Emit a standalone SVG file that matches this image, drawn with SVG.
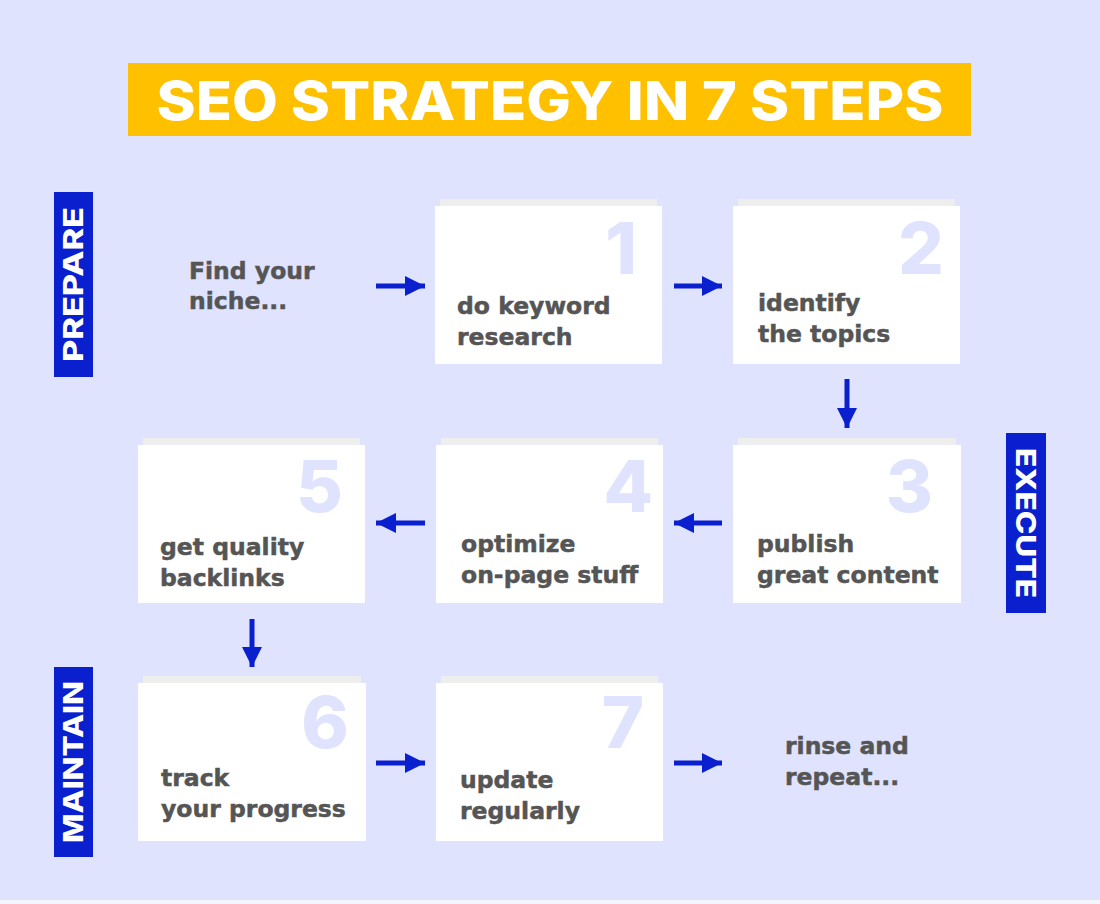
<svg xmlns="http://www.w3.org/2000/svg" width="1100" height="904" viewBox="0 0 1100 904">
<defs>
<style>
.bg{fill:#dfe3fe}
.card{fill:#ffffff}
.shadow{fill:#eeeeee}
.num{font-family:Inter,"Open Sans","DejaVu Sans",sans-serif;font-weight:800;font-size:72px;fill:#dfe3fe;text-anchor:end}
.lbl{font-family:"DejaVu Sans",Inter,sans-serif;font-weight:700;font-size:23.5px;fill:#555555;stroke:#555555;stroke-width:0.5}
.side{fill:#0a1fce}
.sidetxt{font-family:Inter,"Open Sans","DejaVu Sans",sans-serif;font-weight:800;font-size:27px;fill:#ffffff;text-anchor:middle}
.title{font-family:Inter,"Open Sans","DejaVu Sans",sans-serif;font-weight:800;font-size:54px;fill:#ffffff;text-anchor:middle}
.arr{stroke:#0a1fce;stroke-width:5;fill:none}
</style>
<marker id="ah" viewBox="0 0 10 10" refX="10" refY="5" markerWidth="4" markerHeight="4" markerUnits="strokeWidth" orient="auto">
<path d="M0,0 L10,5 L0,10 Z" fill="#0a1fce"/>
</marker>
</defs>
<rect class="bg" x="0" y="0" width="1100" height="904"/>
<rect x="0" y="900" width="1100" height="4" fill="#f4f5fe"/>

<g id="title">
<rect x="128" y="63" width="843" height="73" fill="#ffc000"/>
<text class="title" x="550" y="120" textLength="787" lengthAdjust="spacingAndGlyphs">SEO STRATEGY IN 7 STEPS</text>
</g>

<g id="prepare">
<rect class="side" x="54" y="192" width="39" height="185"/>
<text class="sidetxt" transform="translate(83,284.5) rotate(-90)" x="0" y="0" textLength="155" lengthAdjust="spacingAndGlyphs">PREPARE</text>
</g>
<g id="execute">
<rect class="side" x="1006" y="433" width="40" height="180"/>
<text class="sidetxt" transform="translate(1016,523) rotate(90)" x="0" y="0" textLength="150" lengthAdjust="spacingAndGlyphs">EXECUTE</text>
</g>
<g id="maintain">
<rect class="side" x="54" y="667" width="39" height="190"/>
<text class="sidetxt" transform="translate(83,762) rotate(-90)" x="0" y="0" textLength="162" lengthAdjust="spacingAndGlyphs">MAINTAIN</text>
</g>

<g id="start">
<text class="lbl" x="189" y="279">Find your</text>
<text class="lbl" x="189" y="309">niche...</text>
</g>

<g id="step1">
<rect class="shadow" x="440" y="199" width="217" height="7"/>
<rect class="card" x="435" y="206" width="227" height="158"/>
<text class="num" x="637" y="274">1</text>
<text class="lbl" x="457" y="314">do keyword</text>
<text class="lbl" x="457" y="345">research</text>
</g>

<g id="step2">
<rect class="shadow" x="738" y="199" width="217" height="7"/>
<rect class="card" x="733" y="206" width="227" height="158"/>
<text class="num" x="944" y="274">2</text>
<text class="lbl" x="758" y="311">identify</text>
<text class="lbl" x="758" y="342">the topics</text>
</g>

<g id="step3">
<rect class="shadow" x="738" y="438" width="218" height="7"/>
<rect class="card" x="733" y="445" width="228" height="158"/>
<text class="num" x="933" y="512">3</text>
<text class="lbl" x="757" y="552">publish</text>
<text class="lbl" x="757" y="583">great content</text>
</g>

<g id="step4">
<rect class="shadow" x="441" y="438" width="217" height="7"/>
<rect class="card" x="436" y="445" width="227" height="158"/>
<text class="num" x="653" y="512">4</text>
<text class="lbl" x="461" y="552">optimize</text>
<text class="lbl" x="461" y="583">on-page stuff</text>
</g>

<g id="step5">
<rect class="shadow" x="143" y="438" width="217" height="7"/>
<rect class="card" x="138" y="445" width="227" height="158"/>
<text class="num" x="343" y="512">5</text>
<text class="lbl" x="160" y="555">get quality</text>
<text class="lbl" x="160" y="586">backlinks</text>
</g>

<g id="step6">
<rect class="shadow" x="143" y="676" width="218" height="7"/>
<rect class="card" x="138" y="683" width="228" height="158"/>
<text class="num" x="349" y="748">6</text>
<text class="lbl" x="161" y="786">track</text>
<text class="lbl" x="161" y="817">your progress</text>
</g>

<g id="step7">
<rect class="shadow" x="441" y="676" width="217" height="7"/>
<rect class="card" x="436" y="683" width="227" height="158"/>
<text class="num" x="644" y="748">7</text>
<text class="lbl" x="460" y="788">update</text>
<text class="lbl" x="460" y="819">regularly</text>
</g>

<g id="end">
<text class="lbl" x="785" y="754">rinse and</text>
<text class="lbl" x="785" y="785">repeat...</text>
</g>

<g id="connectors">
<line class="arr" x1="376" y1="286" x2="425" y2="286" marker-end="url(#ah)"/>
<line class="arr" x1="674" y1="286" x2="722" y2="286" marker-end="url(#ah)"/>
<line class="arr" x1="847" y1="379" x2="847" y2="428" marker-end="url(#ah)"/>
<line class="arr" x1="722" y1="523" x2="674" y2="523" marker-end="url(#ah)"/>
<line class="arr" x1="425" y1="523" x2="376" y2="523" marker-end="url(#ah)"/>
<line class="arr" x1="252" y1="619" x2="252" y2="667" marker-end="url(#ah)"/>
<line class="arr" x1="376" y1="763" x2="425" y2="763" marker-end="url(#ah)"/>
<line class="arr" x1="674" y1="763" x2="722" y2="763" marker-end="url(#ah)"/>
</g>
</svg>
